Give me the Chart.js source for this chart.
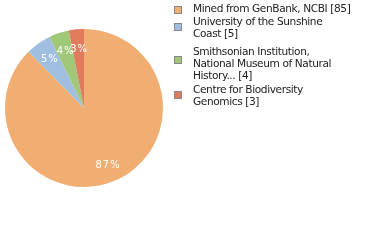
<!DOCTYPE html>
<html><head><meta charset="utf-8">
<script src="https://cdn.jsdelivr.net/npm/chart.js@4"></script>
<style>
html,body{margin:0;padding:0;background:#fff;}
#wrap{position:relative;width:380px;height:240px;}
canvas{position:absolute;left:0;top:0;}
.lg{position:absolute;left:174px;font-family:"DejaVu Sans",sans-serif;font-size:10.6px;letter-spacing:-0.4px;line-height:11.7px;color:#222;}
.lg .sw{position:absolute;left:0;width:6px;height:6px;border:1px solid #888;}
.lg .tx{position:absolute;left:19px;white-space:nowrap;}
</style></head>
<body><div id="wrap"><canvas id="c" width="380" height="240"></canvas></div>
<script>
const categories = ["Mined from GenBank, NCBI", "University of the Sunshine Coast", "Smithsonian Institution, National Museum of Natural History...", "Centre for Biodiversity Genomics"];
const legendLines = [["Mined from GenBank, NCBI [85]"], ["University of the Sunshine", "Coast [5]"], ["Smithsonian Institution,", "National Museum of Natural", "History... [4]"], ["Centre for Biodiversity", "Genomics [3]"]];
const values = [85, 5, 4, 3];
const colors = ["#F0AE72", "#A0BEE0", "#A0C878", "#E07B5E"];
const legendTops = [3.4, 16.4, 46.4, 84.4];

const total = values.reduce((a,b)=>a+b,0);
const pctPlugin = {
  id:'pct',
  afterDatasetsDraw(chart){
    const ctx = chart.ctx;
    const meta = chart.getDatasetMeta(0);
    ctx.save();
    ctx.fillStyle = '#fff';
    ctx.font = '10px "DejaVu Sans", sans-serif';
    ctx.letterSpacing = '1px';
    ctx.textAlign = 'center';
    ctx.textBaseline = 'middle';
    meta.data.forEach((arc,i)=>{
      const p = arc.getProps(['startAngle','endAngle','outerRadius','x','y'], true);
      const mid = (p.startAngle + p.endAngle)/2;
      const r = p.outerRadius*0.77;
      const txt = Math.floor(values[i]/total*100) + '%';
      ctx.fillText(txt, p.x + Math.cos(mid)*r + 1, p.y + Math.sin(mid)*r + 1.5);
    });
    ctx.restore();
  }
};

new Chart(document.getElementById('c'), {
  type:'pie',
  data:{labels:categories, datasets:[{data:values, backgroundColor:colors, borderWidth:0}]},
  options:{
    responsive:false, animation:false,
    layout:{padding:{left:5, top:29, right:217, bottom:53}},
    plugins:{legend:{display:false}, tooltip:{enabled:false}}
  },
  plugins:[pctPlugin]
});

const wrap = document.getElementById('wrap');
legendLines.forEach((lines,i)=>{
  const d = document.createElement('div');
  d.className = 'lg';
  d.style.top = legendTops[i] + 'px';
  const sw = document.createElement('div');
  sw.className = 'sw';
  sw.style.background = colors[i];
  sw.style.top = (3 + (lines.length-1)*3.5) + 'px';
  d.appendChild(sw);
  const tx = document.createElement('div');
  tx.className = 'tx';
  tx.innerHTML = lines.map(l=>l.replace(/&/g,'&amp;')).join('<br>');
  d.appendChild(tx);
  wrap.appendChild(d);
});
</script></body></html>
